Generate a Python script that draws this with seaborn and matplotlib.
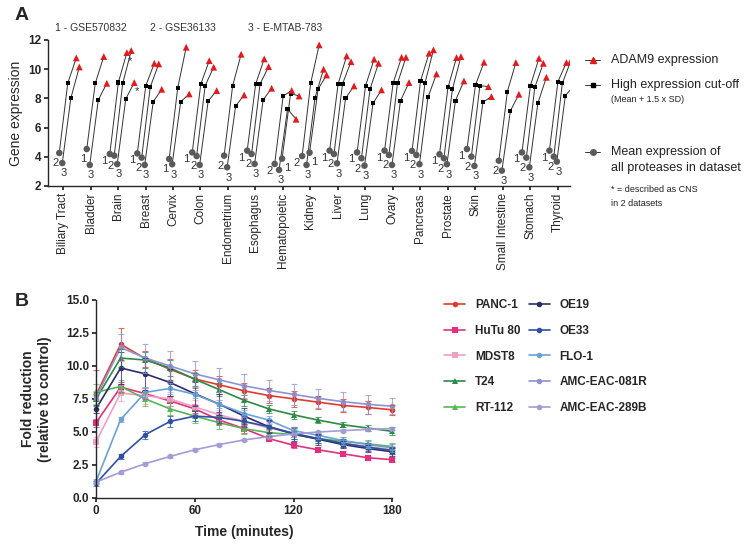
import matplotlib
matplotlib.use("Agg")
import matplotlib.pyplot as plt
from matplotlib.lines import Line2D
import numpy as np
import pandas as pd
import seaborn as sns

# ---- Panel A data: per tissue, datasets (left-to-right) and expression values
tissues = ["Biliary Tract", "Bladder", "Brain", "Breast", "Cervix", "Colon",
           "Endometrium", "Esophagus", "Hematopoietic", "Kidney", "Liver", "Lung",
           "Ovary", "Pancreas", "Prostate", "Skin", "Small Intestine", "Stomach",
           "Thyroid"]
dataset_ids = [
    ["2", "3"], ["1", "3"], ["1", "2", "3"], ["1", "2", "3"], ["1", "3"],
    ["1", "2", "3"], ["2", "3"], ["1", "2", "3"], ["2", "3", "1"], ["2", "3", "1"],
    ["1", "2", "3"], ["1", "2", "3"], ["1", "2", "3"], ["1", "2", "3"],
    ["1", "2", "3"], ["1", "2", "3"], ["2", "3"], ["1", "2", "3"], ["1", "2", "3"],
]
mean_expr = [
    [4.26, 3.57], [4.53, 3.44], [4.19, 4.08, 3.50], [4.23, 3.94, 3.44], [3.85, 3.49],
    [4.30, 4.05, 3.44], [4.08, 3.28], [4.42, 4.19, 3.51], [3.51, 3.10, 3.87],
    [4.05, 3.44, 4.28], [4.42, 4.19, 3.55], [4.30, 3.90, 3.39], [4.42, 4.12, 3.44],
    [4.40, 4.12, 3.49], [4.17, 3.90, 3.49], [4.53, 4.01, 3.37], [3.73, 3.05],
    [4.30, 3.94, 3.28], [4.42, 4.01, 3.67],
]
cutoff_expr = [
    [9.05, 8.00], [9.03, 7.89], [9.08, 9.03, 7.96], [8.87, 8.76, 7.77], [8.69, 7.77],
    [8.97, 8.87, 7.82], [8.85, 7.48], [8.99, 8.99, 7.89], [8.16, 7.27, 8.33],
    [9.03, 8.05, 8.62], [8.99, 8.99, 8.00], [8.87, 8.62, 7.66], [9.03, 9.03, 7.84],
    [9.19, 9.03, 8.07], [8.76, 8.62, 7.84], [8.92, 8.87, 7.73], [8.46, 7.14],
    [8.87, 8.76, 7.66], [9.14, 9.03, 8.18],
]
adam9_expr = [
    [10.77, 10.15], [10.86, 9.03], [11.13, 11.27, 9.08], [10.40, 10.36, 8.62], [11.50, 8.30],
    [10.58, 10.13, 8.53], [11.02, 8.23], [10.70, 10.17, 8.69], [8.54, 6.57, 8.16],
    [11.66, 9.99, 9.60], [10.90, 10.51, 8.85], [10.68, 10.40, 8.58], [10.81, 10.81, 9.08],
    [11.09, 11.32, 9.67], [10.79, 10.86, 9.19], [10.47, 8.80, 8.12], [10.45, 8.28],
    [10.74, 10.40, 9.44], [10.45, 10.56, 8.87],
]
cns_marked = [("Brain", "1"), ("Brain", "3")]
dataset_names = ["1 - GSE570832", "2 - GSE36133", "3 - E-MTAB-783"]

# ---- Panel B data
time_min = [0, 15, 30, 45, 60, 75, 90, 105, 120, 135, 150, 165, 180]
cell_lines = ["PANC-1", "HuTu 80", "MDST8", "T24", "RT-112",
              "OE19", "OE33", "FLO-1", "AMC-EAC-081R", "AMC-EAC-289B"]
fold_mean = {
    "PANC-1":       [7.80, 11.65, 10.55, 9.75, 9.02, 8.57, 8.12, 7.76, 7.51, 7.26, 7.01, 6.86, 6.68],
    "HuTu 80":      [5.70, 8.40, 7.90, 7.35, 6.75, 5.90, 5.25, 4.50, 4.00, 3.65, 3.35, 3.05, 2.90],
    "MDST8":        [4.25, 7.95, 7.75, 7.50, 6.90, 6.30, 5.80, 5.30, 4.90, 4.45, 4.15, 3.90, 3.65],
    "T24":          [7.50, 10.60, 10.45, 9.85, 9.00, 8.20, 7.40, 6.75, 6.30, 5.90, 5.55, 5.30, 5.05],
    "RT-112":       [8.00, 8.45, 7.50, 6.75, 6.20, 5.70, 5.25, 4.95, 4.80, 4.50, 4.30, 4.10, 3.90],
    "OE19":         [6.75, 9.85, 9.40, 8.75, 7.90, 7.10, 6.20, 5.40, 4.85, 4.45, 4.05, 3.75, 3.50],
    "OE33":         [1.10, 3.15, 4.80, 5.80, 6.20, 6.10, 5.80, 5.40, 4.90, 4.50, 4.15, 3.85, 3.60],
    "FLO-1":        [1.25, 5.95, 8.00, 8.30, 7.85, 7.10, 6.40, 5.90, 5.10, 4.75, 4.35, 4.05, 3.80],
    "AMC-EAC-081R": [7.60, 11.40, 10.60, 10.00, 9.40, 8.95, 8.50, 8.15, 7.85, 7.55, 7.30, 7.10, 6.95],
    "AMC-EAC-289B": [1.20, 1.95, 2.60, 3.15, 3.65, 4.05, 4.40, 4.65, 4.85, 5.00, 5.10, 5.20, 5.25],
}
fold_sd = {
    "PANC-1":       [1.9, 1.2, 0.6, 0.8, 0.7, 0.7, 0.6, 0.6, 0.6, 0.5, 0.5, 0.5, 0.4],
    "HuTu 80":      [0.3, 0.4, 0.4, 0.4, 0.3, 0.3, 0.3, 0.2, 0.2, 0.2, 0.2, 0.15, 0.15],
    "MDST8":        [0.4, 0.6, 0.6, 0.5, 0.5, 0.4, 0.4, 0.4, 0.3, 0.3, 0.3, 0.3, 0.3],
    "T24":          [0.5, 0.7, 0.6, 0.6, 0.5, 0.5, 0.4, 0.3, 0.3, 0.2, 0.2, 0.2, 0.3],
    "RT-112":       [0.6, 0.5, 0.5, 0.5, 0.5, 0.5, 0.4, 0.3, 0.3, 0.3, 0.3, 0.3, 0.3],
    "OE19":         [0.3, 1.2, 1.2, 1.0, 0.9, 0.8, 0.6, 0.5, 0.5, 0.4, 0.3, 0.3, 0.3],
    "OE33":         [0.2, 0.2, 0.3, 0.4, 0.4, 0.4, 0.4, 0.4, 0.4, 0.3, 0.3, 0.3, 0.3],
    "FLO-1":        [0.2, 0.2, 0.4, 0.4, 0.3, 0.3, 0.3, 0.3, 0.3, 0.3, 0.3, 0.3, 0.3],
    "AMC-EAC-081R": [0.5, 1.0, 1.1, 1.1, 1.0, 0.9, 0.9, 0.8, 0.8, 0.7, 0.7, 0.7, 0.6],
    "AMC-EAC-289B": [0.1, 0.1, 0.1, 0.1, 0.1, 0.1, 0.1, 0.1, 0.1, 0.1, 0.1, 0.1, 0.1],
}
line_colors = ["#e23b2e", "#e4307c", "#f0a0c6", "#2b8a45", "#55b655",
               "#2a2d6c", "#2f50a3", "#6aa2d6", "#8d94d2", "#a39cd6"]
line_markers = ["o", "s", "s", "^", "^", "o", "o", "o", "o", "o"]

sns.set_theme(style="ticks")
plt.rcParams["font.family"] = ["Liberation Sans", "DejaVu Sans"]
plt.rcParams["axes.linewidth"] = 1.0

fig = plt.figure(figsize=(7.5, 5.47), dpi=100)

# ================= Panel A =================
axA = fig.add_axes([0.064, 0.66, 0.696, 0.267])
slot_off = [-0.30, -0.14, -0.03]
rows = []
for i, t in enumerate(tissues):
    n = len(dataset_ids[i])
    slots = range(3 - n, 3)
    for k, s in enumerate(slots):
        x0 = i + slot_off[s]
        rows.append(dict(tissue=t, ds=dataset_ids[i][k], slot=s, n=n,
                         x_mean=x0, x_cut=x0 + 0.31, x_adam=x0 + 0.62,
                         mean=mean_expr[i][k], cut=cutoff_expr[i][k],
                         adam=adam9_expr[i][k]))
dfA = pd.DataFrame(rows)

for _, r in dfA.iterrows():
    axA.plot([r.x_mean, r.x_cut, r.x_adam], [r["mean"], r.cut, r.adam],
             color="#333333", lw=0.7, zorder=1)
sns.scatterplot(data=dfA, x="x_mean", y="mean", ax=axA, color="#5a5a5a",
                marker="o", s=22, edgecolor="none", zorder=3)
sns.scatterplot(data=dfA, x="x_cut", y="cut", ax=axA, color="black",
                marker="s", s=9, edgecolor="none", zorder=3)
sns.scatterplot(data=dfA, x="x_adam", y="adam", ax=axA, color="#e31a1c",
                marker="^", s=24, edgecolor="none", zorder=3)

for _, r in dfA.iterrows():
    if r.ds == "3":
        off = (1.0, -7.5)
    elif r.slot == 2:
        off = (3.5, -6.5)
    elif r.slot == 0:
        off = (-4.0, -5.0)
    else:
        off = (-2.5, -7.5)
    axA.annotate(r.ds, (r.x_mean, r["mean"]), xytext=off, textcoords="offset points",
                 ha="center", va="center", fontsize=8, color="#333333")
for t, d in cns_marked:
    r = dfA[(dfA.tissue == t) & (dfA.ds == d)].iloc[0]
    axA.annotate("*", (r.x_adam, r.adam), xytext=(2, -6), textcoords="offset points",
                 ha="center", va="center", fontsize=8, color="#333333")

axA.set_xlim(-0.55, 18.45)
axA.set_ylim(2, 12)
axA.set_yticks([2, 4, 6, 8, 10, 12])
axA.set_yticklabels(["2", "4", "6", "8", "10", "12"], fontweight="bold", fontsize=8.5)
axA.set_xticks(range(len(tissues)))
axA.set_xticklabels(tissues, rotation=90, fontsize=8.5)
axA.set_xlabel("")
axA.set_ylabel("Gene expression", fontsize=10)
axA.yaxis.set_label_coords(-0.048, 0.5)
axA.tick_params(length=3, pad=2)
sns.despine(ax=axA)

for j, name in enumerate(dataset_names):
    fig.text([0.073, 0.2, 0.33][j], 0.943, name, fontsize=7.5, color="#333333")

# legend for panel A
lx, tx = 0.785, 0.815
fig.add_artist(Line2D([lx - 0.005, lx + 0.015], [0.891, 0.891], color="#333333", lw=0.7))
fig.add_artist(Line2D([lx + 0.005], [0.891], color="#e31a1c", marker="^", ms=5, lw=0))
fig.text(tx, 0.891, "ADAM9 expression", fontsize=9, va="center", color="#222222")
fig.add_artist(Line2D([lx - 0.005, lx + 0.015], [0.845, 0.845], color="#333333", lw=0.7))
fig.add_artist(Line2D([lx + 0.005], [0.845], color="black", marker="s", ms=3, lw=0))
fig.text(tx, 0.845, "High expression cut-off", fontsize=9, va="center", color="#222222")
fig.text(tx, 0.818, "(Mean + 1.5 x SD)", fontsize=6.5, va="center", color="#222222")
fig.add_artist(Line2D([lx - 0.005, lx + 0.015], [0.722, 0.722], color="#333333", lw=0.7))
fig.add_artist(Line2D([lx + 0.005], [0.722], color="#5a5a5a", marker="o", ms=4, lw=0))
fig.text(tx, 0.722, "Mean expression of", fontsize=9, va="center", color="#222222")
fig.text(tx, 0.693, "all proteases in dataset", fontsize=9, va="center", color="#222222")
fig.text(tx, 0.654, "* = described as CNS", fontsize=6.5, va="center", color="#222222")
fig.text(tx, 0.628, "in 2 datasets", fontsize=6.5, va="center", color="#222222")

# ================= Panel B =================
axB = fig.add_axes([0.128, 0.0896, 0.395, 0.362])
dfB = pd.DataFrame([dict(time=t, value=v, line=name)
                    for name in cell_lines for t, v in zip(time_min, fold_mean[name])])
palette = dict(zip(cell_lines, line_colors))
markers = dict(zip(cell_lines, line_markers))
sns.lineplot(data=dfB, x="time", y="value", hue="line", style="line",
             hue_order=cell_lines, style_order=cell_lines, palette=palette,
             markers=markers, dashes=False, markersize=4, markeredgewidth=0,
             linewidth=1.2, legend=False, ax=axB, clip_on=False)
for name, c in zip(cell_lines, line_colors):
    axB.errorbar(time_min, fold_mean[name], yerr=fold_sd[name], fmt="none",
                 ecolor=c, elinewidth=0.8, capsize=2, capthick=0.8, alpha=0.75,
                 clip_on=False)

axB.set_xlim(0, 180)
axB.set_ylim(0, 15)
axB.set_xticks([0, 60, 120, 180])
axB.set_xticklabels(["0", "60", "120", "180"], fontweight="bold", fontsize=8.5)
axB.set_yticks(np.arange(0, 15.1, 2.5))
axB.set_yticklabels([f"{v:.1f}" for v in np.arange(0, 15.1, 2.5)],
                    fontweight="bold", fontsize=8.5)
axB.set_xlabel("Time (minutes)", fontweight="bold", fontsize=10, labelpad=6)
axB.set_ylabel("Fold reduction\n(relative to control)", fontweight="bold", fontsize=10)
axB.yaxis.set_label_coords(-0.15, 0.5)
axB.tick_params(length=3, pad=2)
sns.despine(ax=axB)

handles = [Line2D([0], [0], color=c, marker=m, ms=4, mew=0, lw=1.2)
           for c, m in zip(line_colors, line_markers)]
leg = fig.legend(handles, cell_lines, loc="upper left", bbox_to_anchor=(0.578, 0.472),
                 ncol=2, frameon=False, handlelength=1.8, columnspacing=0.7,
                 labelspacing=1.15, prop=dict(weight="bold", size=8.5))

fig.text(0.02, 0.963, "A", fontsize=14, fontweight="bold")
fig.text(0.02, 0.44, "B", fontsize=14, fontweight="bold")

fig.savefig("out.png", dpi=100)
